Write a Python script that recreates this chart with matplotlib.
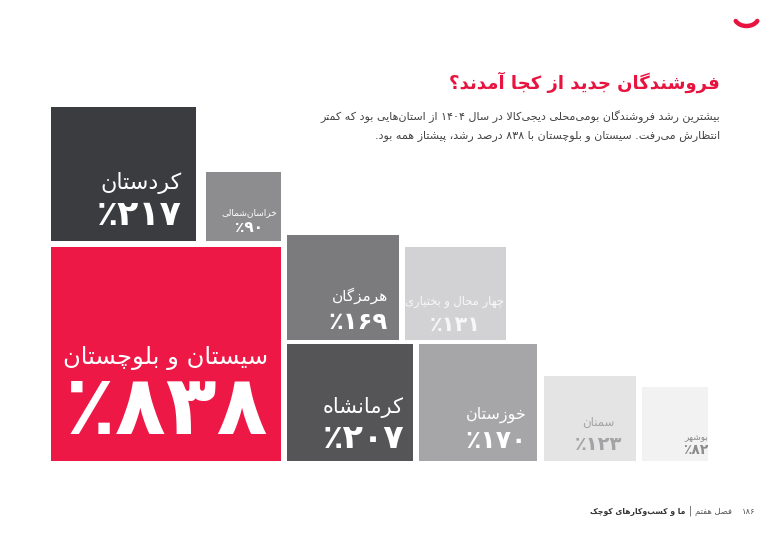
import matplotlib
matplotlib.use("Agg")
import matplotlib.pyplot as plt
from matplotlib.patches import Rectangle, Arc

plt.rcParams['font.family'] = ['DejaVu Sans']

# ---------------- data ----------------
provinces = ["کردستان", "خراسان‌شمالی", "سیستان و بلوچستان", "هرمزگان",
             "چهار محال و بختیاری", "کرمانشاه", "خوزستان", "سمنان", "بوشهر"]
growth = [217, 90, 838, 169, 131, 207, 170, 123, 82]

title = "فروشندگان جدید از کجا آمدند؟"
subtitle = ["بیشترین رشد فروشندگان بومی‌محلی دیجی‌کالا در سال ۱۴۰۴ از استان‌هایی بود که کمتر",
            "انتظارش می‌رفت. سیستان و بلوچستان با ۸۳۸ درصد رشد، پیشتاز همه بود."]
footer_book = "ما و کسب‌وکارهای کوچک"
footer_chapter = "فصل هفتم"
footer_page = 186

# ---------------- layout (pixels) ----------------
boxes = [(51, 107, 145, 134), (206, 172, 75, 69), (51, 247, 230, 214),
         (287, 235, 112, 105), (405, 247, 101, 93), (287, 344, 126, 117),
         (419, 344, 118, 117), (544, 376, 92, 85), (642, 387, 66, 74)]
colors = ["#3b3c40", "#8d8d8f", "#ee1846", "#7b7b7d", "#d2d2d4",
          "#555557", "#a6a6a9", "#e4e4e5", "#f2f2f2"]
txtcol = ["white", "white", "white", "white", "#f7f7f7",
          "white", "white", "#a3a3a5", "#8c8c8e"]
# (x, ha, name_y, name_size, num_y, num_size)
labels = [(182, 'right', 183, 16, 215, 25),
          (249, 'center', 213, 6.5, 228, 11),
          (166, 'center', 358, 17.5, 410, 60),
          (388, 'right', 296, 11, 322, 17.5),
          (455, 'center', 301, 8.3, 325, 15),
          (404, 'right', 408, 15, 438, 24),
          (527, 'right', 415, 11.5, 441, 18),
          (598, 'center', 422, 8.5, 445, 14),
          (708, 'right', 438, 6.5, 450, 10)]

# ---------------- simple Arabic/Persian shaping ----------------
F = {
 'ا': (0xFE8D, 0xFE8E, None, None), 'آ': (0xFE81, 0xFE82, None, None),
 'ب': (0xFE8F, 0xFE90, 0xFE91, 0xFE92), 'پ': (0xFB56, 0xFB57, 0xFB58, 0xFB59),
 'ت': (0xFE95, 0xFE96, 0xFE97, 0xFE98), 'ث': (0xFE99, 0xFE9A, 0xFE9B, 0xFE9C),
 'ج': (0xFE9D, 0xFE9E, 0xFE9F, 0xFEA0), 'چ': (0xFB7A, 0xFB7B, 0xFB7C, 0xFB7D),
 'ح': (0xFEA1, 0xFEA2, 0xFEA3, 0xFEA4), 'خ': (0xFEA5, 0xFEA6, 0xFEA7, 0xFEA8),
 'د': (0xFEA9, 0xFEAA, None, None), 'ذ': (0xFEAB, 0xFEAC, None, None),
 'ر': (0xFEAD, 0xFEAE, None, None), 'ز': (0xFEAF, 0xFEB0, None, None),
 'ژ': (0xFB8A, 0xFB8B, None, None),
 'س': (0xFEB1, 0xFEB2, 0xFEB3, 0xFEB4), 'ش': (0xFEB5, 0xFEB6, 0xFEB7, 0xFEB8),
 'ص': (0xFEB9, 0xFEBA, 0xFEBB, 0xFEBC), 'ض': (0xFEBD, 0xFEBE, 0xFEBF, 0xFEC0),
 'ط': (0xFEC1, 0xFEC2, 0xFEC3, 0xFEC4), 'ظ': (0xFEC5, 0xFEC6, 0xFEC7, 0xFEC8),
 'ع': (0xFEC9, 0xFECA, 0xFECB, 0xFECC), 'غ': (0xFECD, 0xFECE, 0xFECF, 0xFED0),
 'ف': (0xFED1, 0xFED2, 0xFED3, 0xFED4), 'ق': (0xFED5, 0xFED6, 0xFED7, 0xFED8),
 'ک': (0xFB8E, 0xFB8F, 0xFB90, 0xFB91), 'گ': (0xFB92, 0xFB93, 0xFB94, 0xFB95),
 'ل': (0xFEDD, 0xFEDE, 0xFEDF, 0xFEE0), 'م': (0xFEE1, 0xFEE2, 0xFEE3, 0xFEE4),
 'ن': (0xFEE5, 0xFEE6, 0xFEE7, 0xFEE8), 'ه': (0xFEE9, 0xFEEA, 0xFEEB, 0xFEEC),
 'و': (0xFEED, 0xFEEE, None, None), 'ی': (0xFBFC, 0xFBFD, 0xFBFE, 0xFBFF),
}
DUAL = {c for c, f in F.items() if f[2] is not None}
JOIN = set(F)
LAMALEF = {'ا': (0xFEFB, 0xFEFC), 'آ': (0xFEF5, 0xFEF6)}
DIGITS = set('0123456789۰۱۲۳۴۵۶۷۸۹')


def shape(s):
    out = []
    i = 0
    n = len(s)
    while i < n:
        c = s[i]
        if c not in F:
            if c != '\u200c':
                out.append(c)
            i += 1
            continue
        prev = s[i - 1] if i > 0 else ''
        jp = prev in DUAL
        if c == 'ل' and i + 1 < n and s[i + 1] in LAMALEF:
            iso, fin = LAMALEF[s[i + 1]]
            out.append(chr(fin if jp else iso))
            i += 2
            continue
        nxt = s[i + 1] if i + 1 < n else ''
        jn = c in DUAL and nxt in JOIN
        iso, fin, ini, med = F[c]
        if jp and jn:
            code = med
        elif jp:
            code = fin
        elif jn:
            code = ini
        else:
            code = iso
        out.append(chr(code))
        i += 1
    vis = out[::-1]
    # keep digit runs left-to-right
    res = []
    j = 0
    while j < len(vis):
        if vis[j] in DIGITS:
            k = j
            while k < len(vis) and vis[k] in DIGITS:
                k += 1
            res.extend(vis[j:k][::-1])
            j = k
        else:
            res.append(vis[j])
            j += 1
    return ''.join(res)


def fa(num):
    return str(num).translate(str.maketrans('0123456789', '۰۱۲۳۴۵۶۷۸۹'))


# ---------------- draw ----------------
fig = plt.figure(figsize=(7.8, 5.33), dpi=100)
ax = fig.add_axes([0, 0, 1, 1])
ax.set_xlim(0, 780)
ax.set_ylim(533, 0)
ax.axis('off')

for (x, y, w, h), col in zip(boxes, colors):
    ax.add_patch(Rectangle((x, y), w, h, facecolor=col, edgecolor='none'))

for name, val, (lx, ha, ny, ns, vy, vs), tc in zip(provinces, growth, labels, txtcol):
    ax.text(lx, ny, shape(name), ha=ha, va='center', fontsize=ns, color=tc)
    ax.text(lx, vy, '٪' + fa(val), ha=ha, va='center', fontsize=vs,
            color=tc, fontweight='bold')

ax.text(720, 82, shape(title), ha='right', va='center', fontsize=13,
        fontweight='bold', color='#e8133f')
ax.text(720, 117, shape(subtitle[0]), ha='right', va='center', fontsize=8,
        color='#444444')
ax.text(720, 136, shape(subtitle[1]), ha='right', va='center', fontsize=8,
        color='#444444')

ax.text(755, 511, fa(footer_page), ha='right', va='center', fontsize=6,
        color='#555555')
ax.text(732, 511, shape(footer_chapter), ha='right', va='center', fontsize=6,
        color='#555555')
ax.text(690, 511, '|', ha='center', va='center', fontsize=7, color='#555555')
ax.text(685, 511, shape(footer_book), ha='right', va='center', fontsize=5.5,
        fontweight='bold', color='#333333')

ax.add_patch(Arc((746.5, 17), 24, 18, theta1=20, theta2=160,
                 color='#e8133f', lw=3.2, capstyle='round'))

fig.savefig('out.png', dpi=100)
